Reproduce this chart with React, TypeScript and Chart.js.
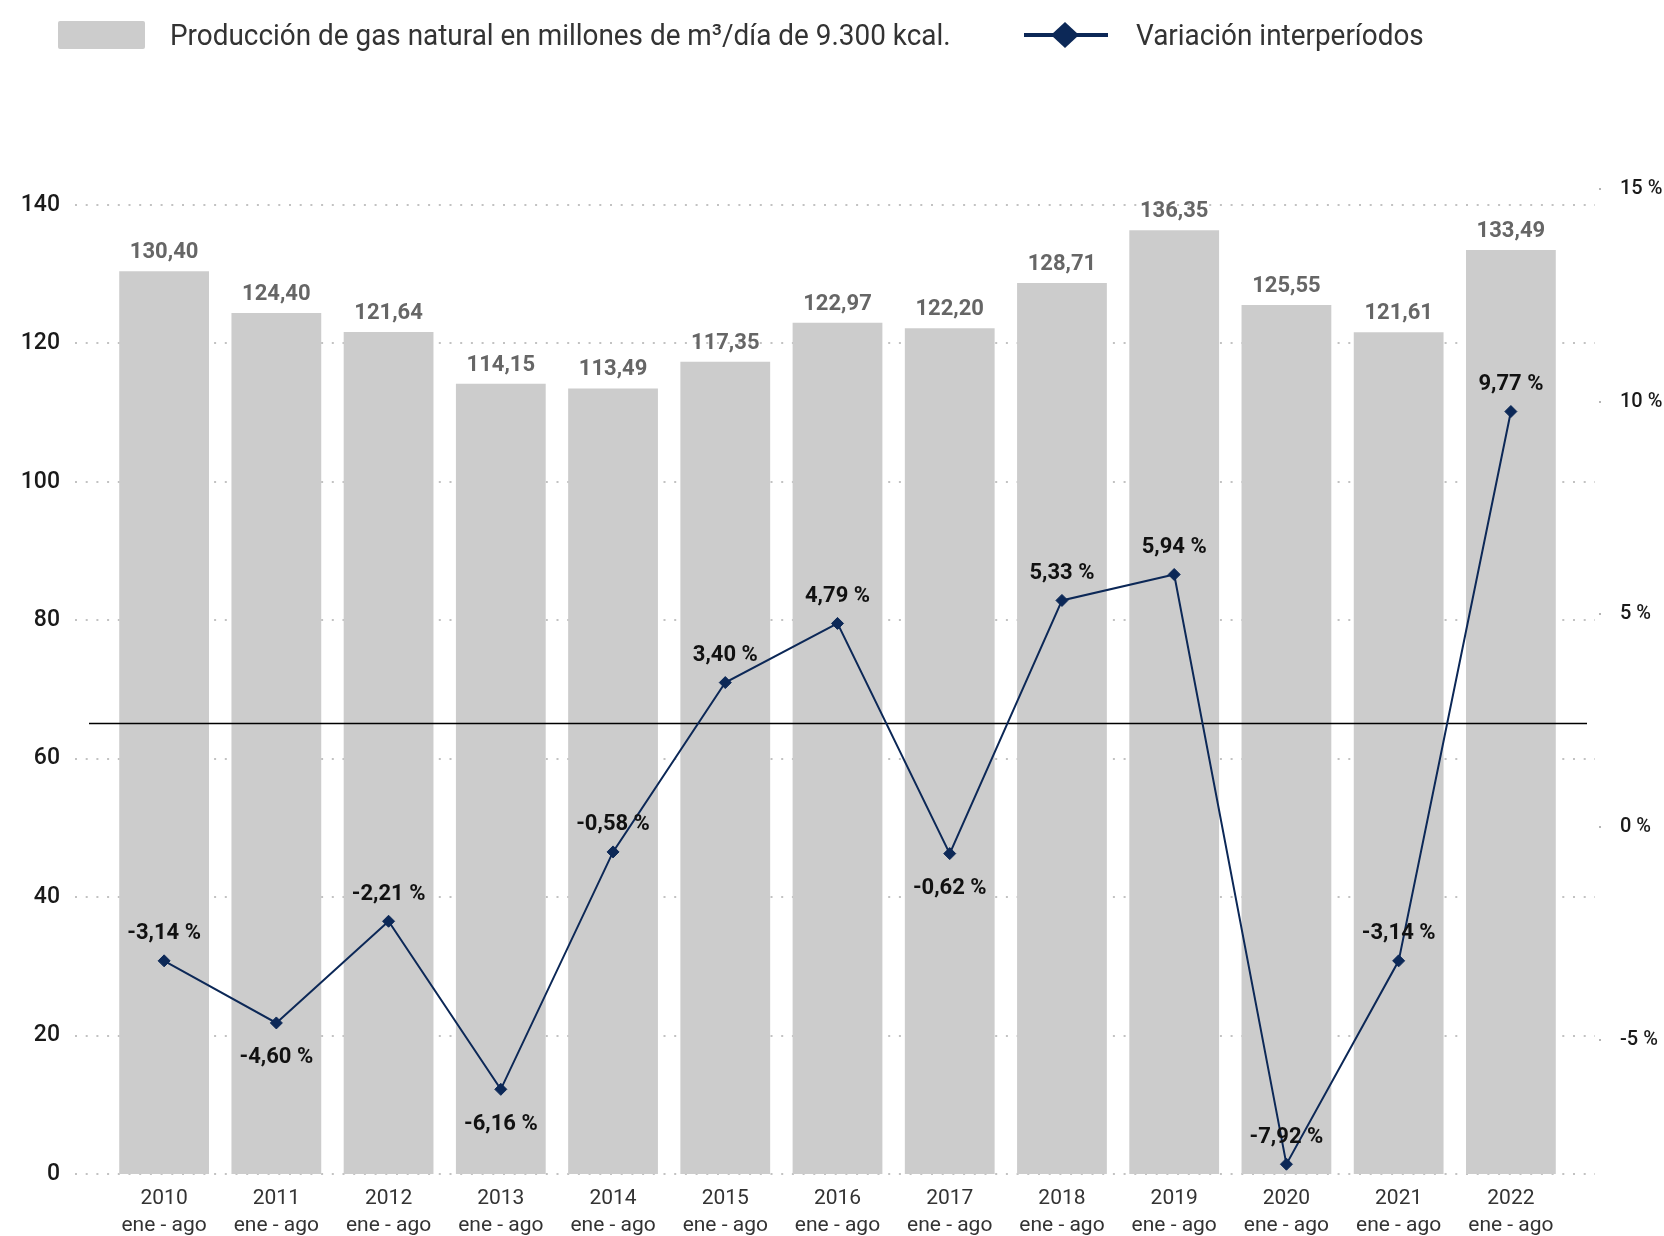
import React, { useEffect, useRef } from 'react';
import { Chart, registerables } from 'chart.js';

Chart.register(...registerables);

// ---------- data ----------
const categories = ['2010', '2011', '2012', '2013', '2014', '2015', '2016', '2017', '2018', '2019', '2020', '2021', '2022'];
const periodLabel = 'ene - ago';
const production = [130.40, 124.40, 121.64, 114.15, 113.49, 117.35, 122.97, 122.20, 128.71, 136.35, 125.55, 121.61, 133.49];
const variation = [-3.14, -4.60, -2.21, -6.16, -0.58, 3.40, 4.79, -0.62, 5.33, 5.94, -7.92, -3.14, 9.77];
const leftTicks = [0, 20, 40, 60, 80, 100, 120, 140];
const rightTicks = [-5, 0, 5, 10, 15];
const referenceValue = 65.2;
const productionLabel = 'Producción de gas natural en millones de m³/día de 9.300 kcal.';
const variationLabel = 'Variación interperíodos';
// indices of the variation labels that sit below their point
const variationLabelsBelow = [1, 3, 7];

const FONT = 'Roboto, "Noto Sans", sans-serif';
const NAVY = '#0c2857';
const BAR = '#cccccc';

const fmt = (v: number) => v.toFixed(2).replace('.', ',');

if (typeof document !== 'undefined') {
  document.body.style.margin = '0';
}

const overlayPlugin = {
  id: 'overlay',
  beforeDatasetsDraw(chart: any) {
    const { ctx, chartArea, scales } = chart;
    ctx.save();
    ctx.strokeStyle = '#c2c2c2';
    ctx.lineWidth = 2;
    ctx.setLineDash([2, 8.7]);
    for (const v of leftTicks) {
      const y = Math.round(scales.y.getPixelForValue(v));
      ctx.beginPath();
      ctx.moveTo(chartArea.left - 33, y);
      ctx.lineTo(chartArea.right + 28, y);
      ctx.stroke();
    }
    ctx.setLineDash([]);
    ctx.fillStyle = '#b5b5b5';
    for (const v of rightTicks) {
      const y = Math.round(scales.y1.getPixelForValue(v));
      ctx.fillRect(chartArea.right + 32, y - 1, 2, 2);
    }
    ctx.restore();
  },
  afterDatasetDraw(chart: any, args: any) {
    if (args.index !== 0) return;
    const { ctx, chartArea, scales } = chart;
    const y = Math.round(scales.y.getPixelForValue(referenceValue)) + 0.5;
    ctx.save();
    ctx.strokeStyle = '#000';
    ctx.lineWidth = 1.6;
    ctx.beginPath();
    ctx.moveTo(chartArea.left - 19, y);
    ctx.lineTo(chartArea.right + 20, y);
    ctx.stroke();
    ctx.restore();
  },
  afterDatasetsDraw(chart: any) {
    const { ctx } = chart;
    ctx.save();
    ctx.textAlign = 'center';
    // bar labels
    ctx.fillStyle = '#666666';
    ctx.font = `bold 22px ${FONT}`;
    ctx.textBaseline = 'alphabetic';
    chart.getDatasetMeta(0).data.forEach((bar: any, i: number) => {
      ctx.fillText(fmt(production[i]), bar.x, bar.y - 13);
    });
    // variation labels
    ctx.fillStyle = '#111111';
    ctx.font = `bold 22px ${FONT}`;
    ctx.textBaseline = 'middle';
    chart.getDatasetMeta(1).data.forEach((pt: any, i: number) => {
      const below = variationLabelsBelow.includes(i);
      ctx.fillText(fmt(variation[i]) + ' %', pt.x, below ? pt.y + 35 : pt.y - 27);
    });
    ctx.restore();
  },
};

function ChartCanvas() {
  const ref = useRef<HTMLCanvasElement | null>(null);
  useEffect(() => {
    if (!ref.current) return;
    Chart.defaults.font.family = FONT;
    const chart = new Chart(ref.current, {
      type: 'bar',
      data: {
        labels: categories.map((c) => [c, periodLabel]),
        datasets: [
          {
            type: 'bar',
            label: productionLabel,
            data: production,
            backgroundColor: BAR,
            yAxisID: 'y',
            barPercentage: 0.8,
            categoryPercentage: 1,
            order: 1,
          } as any,
          {
            type: 'line',
            label: variationLabel,
            data: variation,
            borderColor: NAVY,
            backgroundColor: NAVY,
            borderWidth: 2,
            pointStyle: 'rectRot',
            pointRadius: 6,
            pointBorderWidth: 1,
            pointBackgroundColor: NAVY,
            pointBorderColor: NAVY,
            tension: 0,
            yAxisID: 'y1',
            order: 0,
          } as any,
        ],
      },
      options: {
        responsive: false,
        animation: false,
        layout: { padding: { top: 189, left: 0, right: 0, bottom: 0 } },
        plugins: {
          legend: { display: false },
          tooltip: { enabled: false },
        },
        scales: {
          x: {
            grid: { display: false },
            border: { display: false },
            ticks: {
              color: '#333333',
              font: { size: 21, family: FONT, lineHeight: 1.25 },
              padding: 4,
              maxRotation: 0,
              autoSkip: false,
            },
            afterFit: (s: any) => {
              s.height = 62;
              s.paddingLeft = 0;
              s.paddingRight = 0;
            },
          },
          y: {
            position: 'left',
            min: 0,
            max: 142.3,
            afterBuildTicks: (s: any) => {
              s.ticks = leftTicks.map((v) => ({ value: v }));
            },
            grid: { display: false },
            border: { display: false },
            ticks: {
              color: '#1a1a1a',
              font: { size: 23, family: FONT, weight: '500' },
              padding: 40,
            },
            afterFit: (s: any) => {
              s.width = 108;
              s.paddingTop = 0;
              s.paddingBottom = 0;
            },
          },
          y1: {
            position: 'right',
            min: -8.15,
            max: 15,
            afterBuildTicks: (s: any) => {
              s.ticks = rightTicks.map((v) => ({ value: v }));
            },
            grid: { display: false },
            border: { display: false },
            ticks: {
              color: '#1a1a1a',
              font: { size: 20, family: FONT, weight: '500' },
              padding: 45,
              callback: (v: any) => `${v} %`,
            },
            afterFit: (s: any) => {
              s.width = 97;
              s.paddingTop = 0;
              s.paddingBottom = 0;
            },
          },
        },
      } as any,
      plugins: [overlayPlugin],
    });
    return () => chart.destroy();
  }, []);
  return <canvas ref={ref} width={1664} height={1236} style={{ display: 'block' }} />;
}

const legendText: React.CSSProperties = {
  position: 'absolute',
  top: 35,
  transform: 'translateY(-50%) scaleX(0.93)',
  transformOrigin: 'left center',
  fontFamily: FONT,
  fontSize: 30,
  color: '#333',
  whiteSpace: 'nowrap',
  lineHeight: 1,
};

export default function App() {
  return (
    <div style={{ position: 'relative', width: 1664, height: 1236, overflow: 'hidden', background: '#fff' }}>
      <ChartCanvas />
      <div style={{ position: 'absolute', left: 58, top: 21, width: 87, height: 28, background: BAR, borderRadius: 2 }} />
      <div style={{ ...legendText, left: 170 }}>{productionLabel}</div>
      <svg style={{ position: 'absolute', left: 1020, top: 20 }} width={92} height={30}>
        <line x1={4} y1={15} x2={88} y2={15} stroke={NAVY} strokeWidth={4} />
        <polygon points="45,2 59,15 45,28 31,15" fill={NAVY} />
      </svg>
      <div style={{ ...legendText, left: 1136 }}>{variationLabel}</div>
    </div>
  );
}
